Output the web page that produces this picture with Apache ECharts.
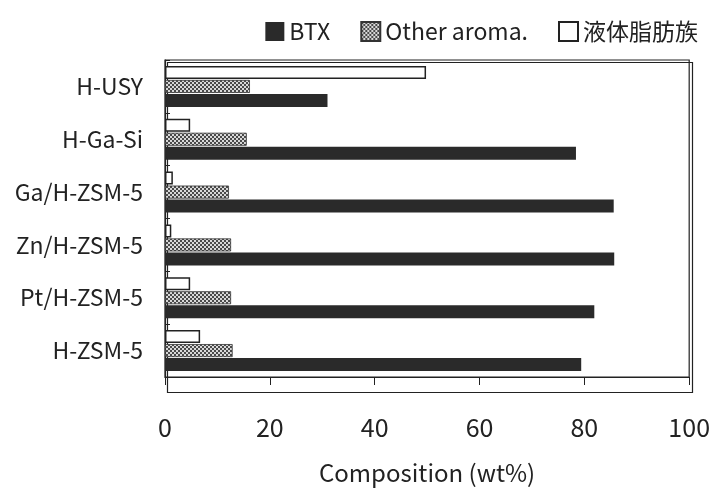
<!DOCTYPE html>
<html>
<head>
    <meta charset="utf-8"/>
    <title>Composition</title>
    <script src="https://cdn.jsdelivr.net/npm/echarts@6/dist/echarts.min.js"></script>
    <style>
        html, body { margin: 0; padding: 0; background: #fff; }
    </style>
</head>
<body>
<div id="main" style="width: 713px; height: 490px;"></div>
<script type="text/javascript">

    // catalysts, top to bottom as in the figure
    var catalysts = ['H-USY', 'H-Ga-Si', 'Ga/H-ZSM-5', 'Zn/H-ZSM-5', 'Pt/H-ZSM-5', 'H-ZSM-5'];
    var seriesNames = ['BTX', 'Other aroma.', '液体脂肪族'];
    var btx = [31, 78.4, 85.6, 85.7, 81.9, 79.4];
    var otherAroma = [16.2, 15.6, 12.2, 12.6, 12.6, 12.9];
    var aliphatic = [49.8, 4.8, 1.5, 1.2, 4.8, 6.7];
    var xTicks = [0, 20, 40, 60, 80, 100];

    var font = '"Noto Sans CJK JP", "Noto Sans", sans-serif';

    // hatched fill for "Other aroma."
    var hatch = document.createElement('canvas');
    hatch.width = 4;
    hatch.height = 4;
    var hc = hatch.getContext('2d');
    hc.fillStyle = '#d8d8d8';
    hc.fillRect(0, 0, 4, 4);
    hc.fillStyle = '#4a4a4a';
    hc.fillRect(0, 0, 2, 2);
    hc.fillRect(2, 2, 2, 2);

    // category axis goes bottom-up, so reverse the lists
    function rev(a) { return a.slice().reverse(); }

    var myChart = echarts.init(document.getElementById('main'));

    myChart.setOption({
        backgroundColor: '#fff',
        animation: false,
        textStyle: { fontFamily: font },
        legend: {
            data: seriesNames,
            right: 10,
            top: 15,
            itemWidth: 19,
            itemHeight: 19,
            itemGap: 30,
            icon: 'rect',
            textStyle: { fontSize: 23, color: '#222', fontFamily: font }
        },
        grid: {
            left: 165,
            right: 23,
            top: 60,
            bottom: 108,
            show: true,
            borderColor: '#222',
            borderWidth: 1.2
        },
        graphic: [{
            type: 'rect',
            left: 165,
            top: 60,
            shape: { width: 525, height: 330 },
            style: { fill: null, stroke: '#222', lineWidth: 1.2 },
            silent: true
        }],
        xAxis: {
            type: 'value',
            min: xTicks[0],
            max: xTicks[xTicks.length - 1],
            interval: 20,
            name: 'Composition (wt%)',
            nameLocation: 'middle',
            nameGap: 84,
            nameTextStyle: { fontSize: 24, color: '#222', fontFamily: font },
            axisLine: { show: true, lineStyle: { color: '#222', width: 1.2 } },
            axisTick: { show: true, inside: false, length: 8, lineStyle: { color: '#222' } },
            axisLabel: { fontSize: 25, color: '#222', margin: 38, fontFamily: font },
            splitLine: { show: false }
        },
        yAxis: {
            type: 'category',
            data: rev(catalysts),
            axisLine: { show: true, lineStyle: { color: '#222', width: 1.2 } },
            axisTick: { show: true, inside: true, length: 5, lineStyle: { color: '#222' } },
            axisLabel: { fontSize: 23, color: '#222', margin: 22, fontFamily: font }
        },
        // series listed top bar first within each group
        series: [
            {
                name: seriesNames[2],
                type: 'bar',
                data: rev(aliphatic),
                barWidth: 13,
                barGap: '8%',
                itemStyle: { color: '#fff', borderColor: '#222', borderWidth: 1.5 }
            },
            {
                name: seriesNames[1],
                type: 'bar',
                data: rev(otherAroma),
                barWidth: 13,
                barGap: '8%',
                itemStyle: {
                    color: { image: hatch, repeat: 'repeat' },
                    borderColor: '#333',
                    borderWidth: 0.8
                }
            },
            {
                name: seriesNames[0],
                type: 'bar',
                data: rev(btx),
                barWidth: 13,
                barGap: '8%',
                itemStyle: { color: '#2a2a2a' }
            }
        ]
    });
</script>
</body>
</html>
